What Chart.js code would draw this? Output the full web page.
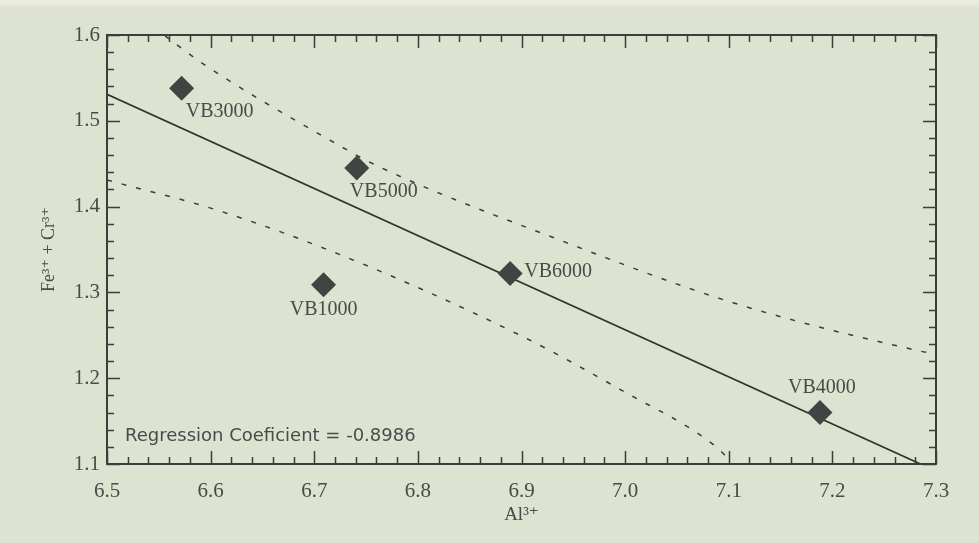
<!DOCTYPE html>
<html>
<head>
<meta charset="utf-8">
<script src="https://cdn.jsdelivr.net/npm/chart.js@4.4.1/dist/chart.umd.min.js"></script>
<style>
  html, body { margin: 0; padding: 0; background: #dee2d1; }
  #wrap {
    width: 979px; height: 543px; position: relative;
    background: linear-gradient(to bottom, #eeeee0 0px, #e8e9da 5px, #dee2d1 7px);
  }
</style>
</head>
<body>
<div id="wrap"><canvas id="chart"></canvas></div>
<script>
// samples (Al3+ vs Fe3+ + Cr3+)
const sampleNames = ['VB3000', 'VB5000', 'VB6000', 'VB1000', 'VB4000'];
const alValues = [6.572, 6.741, 6.889, 6.709, 7.188];
const feCrValues = [1.538, 1.445, 1.322, 1.309, 1.160];

// regression line ends
const regX = [6.5, 7.285];
const regY = [1.531, 1.1];

// confidence bands (dashed)
const upperX = [6.556, 6.592, 6.710, 6.760, 6.937, 7.104, 7.283, 7.3];
const upperY = [1.599, 1.567, 1.481, 1.448, 1.361, 1.288, 1.232, 1.228];
const lowerX = [6.5, 6.606, 6.733, 6.902, 6.995, 7.089, 7.098];
const lowerY = [1.431, 1.396, 1.340, 1.248, 1.187, 1.119, 1.108];

const xTicks = [6.5, 6.6, 6.7, 6.8, 6.9, 7.0, 7.1, 7.2, 7.3];
const yTicks = [1.1, 1.2, 1.3, 1.4, 1.5, 1.6];

const regressionText = 'Regression Coeficient = -0.8986';

// label offsets from each marker (px)
const labelDx = [38, 27, 48, 0, 2];
const labelDy = [24, 24, -2, 25, -25];

const ink = '#3a3f3c';
const textInk = '#474c48';
const serif = '"Liberation Serif", "DejaVu Serif", serif';

const toPts = (xs, ys) => xs.map((x, i) => ({ x: x, y: ys[i] }));

const frame = {
  id: 'frame',
  afterDatasetsDraw(chart) {
    const ctx = chart.ctx;
    const a = chart.chartArea;
    const xs = chart.scales.x, ys = chart.scales.y;
    ctx.save();
    ctx.strokeStyle = ink;
    ctx.lineWidth = 2;
    ctx.strokeRect(a.left, a.top, a.right - a.left, a.bottom - a.top);
    ctx.lineWidth = 1.5;
    ctx.beginPath();
    // x ticks, step 0.02, inward on bottom and top
    for (let i = 0; i <= 40; i++) {
      const v = 6.5 + i * 0.02;
      const px = Math.round(xs.getPixelForValue(v)) + 0.5;
      const len = i % 5 === 0 ? 13 : 7;
      ctx.moveTo(px, a.bottom); ctx.lineTo(px, a.bottom - len);
      ctx.moveTo(px, a.top); ctx.lineTo(px, a.top + len);
    }
    for (let i = 0; i <= 25; i++) {
      const v = 1.1 + i * 0.02;
      const py = Math.round(ys.getPixelForValue(v)) + 0.5;
      const len = i % 5 === 0 ? 13 : 7;
      ctx.moveTo(a.left, py); ctx.lineTo(a.left + len, py);
      ctx.moveTo(a.right, py); ctx.lineTo(a.right - len, py);
    }
    ctx.stroke();

    // sample labels
    const meta = chart.getDatasetMeta(0);
    ctx.fillStyle = textInk;
    ctx.font = '20px ' + serif;
    ctx.textAlign = 'center';
    ctx.textBaseline = 'middle';
    meta.data.forEach((pt, i) => {
      ctx.fillText(sampleNames[i], pt.x + labelDx[i], pt.y + labelDy[i]);
    });

    // regression coefficient
    ctx.font = '18px "DejaVu Sans", sans-serif';
    ctx.textAlign = 'left';
    ctx.fillText(regressionText, a.left + 18, a.bottom - 28);
    ctx.restore();
  }
};

new Chart(document.getElementById('chart'), {
  type: 'scatter',
  data: {
    datasets: [
      {
        label: 'Samples',
        data: toPts(alValues, feCrValues),
        pointStyle: 'rectRot',
        pointRadius: 12.5,
        pointHoverRadius: 12.5,
        backgroundColor: '#404543',
        borderColor: '#404543',
        borderWidth: 0,
        showLine: false
      },
      {
        label: 'Regression',
        data: toPts(regX, regY),
        showLine: true,
        borderColor: '#2f3331',
        borderWidth: 1.7,
        pointRadius: 0
      },
      {
        label: 'Upper',
        data: toPts(upperX, upperY),
        showLine: true,
        borderColor: '#3a3e3b',
        borderWidth: 1.5,
        borderDash: [5, 10],
        cubicInterpolationMode: 'monotone',
        pointRadius: 0
      },
      {
        label: 'Lower',
        data: toPts(lowerX, lowerY),
        showLine: true,
        borderColor: '#3a3e3b',
        borderWidth: 1.5,
        borderDash: [5, 10],
        cubicInterpolationMode: 'monotone',
        pointRadius: 0
      }
    ]
  },
  options: {
    responsive: true,
    maintainAspectRatio: false,
    animation: false,
    layout: { padding: { left: 0, top: 35, right: 43, bottom: 0 } },
    plugins: {
      legend: { display: false },
      tooltip: { enabled: false }
    },
    scales: {
      x: {
        type: 'linear',
        min: 6.5,
        max: 7.3,
        grid: { display: false, drawTicks: false },
        border: { display: false },
        afterBuildTicks: (s) => { s.ticks = xTicks.map(v => ({ value: v })); },
        afterFit: (s) => { s.height = 79; },
        ticks: {
          padding: 15,
          color: textInk,
          font: { family: serif, size: 21 },
          callback: (v) => Number(v).toFixed(1)
        },
        title: {
          display: true,
          text: 'Al³⁺',
          color: textInk,
          font: { family: serif, size: 19 },
          padding: { top: 0, bottom: 17 }
        }
      },
      y: {
        type: 'linear',
        min: 1.1,
        max: 1.6,
        grid: { display: false, drawTicks: false },
        border: { display: false },
        afterBuildTicks: (s) => { s.ticks = yTicks.map(v => ({ value: v })); },
        afterFit: (s) => { s.width = 107; },
        ticks: {
          padding: 7,
          color: textInk,
          font: { family: serif, size: 21 },
          callback: (v) => Number(v).toFixed(1)
        },
        title: {
          display: true,
          text: 'Fe³⁺ + Cr³⁺',
          color: textInk,
          font: { family: serif, size: 18 },
          padding: { top: 38, bottom: 0 }
        }
      }
    }
  },
  plugins: [frame]
});
</script>
</body>
</html>
